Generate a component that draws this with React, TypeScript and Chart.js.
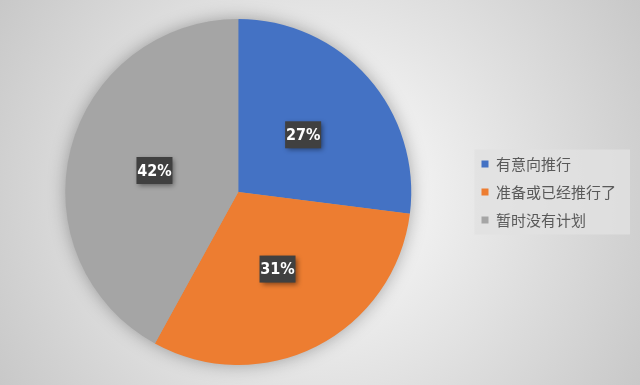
import React, { useEffect, useRef } from "react";
import { Chart, registerables } from "chart.js";

Chart.register(...registerables);

const categories = ["有意向推行", "准备或已经推行了", "暂时没有计划"];
const values = [27, 31, 42];
const colors = ["#4472C4", "#ED7D31", "#A5A5A5"];
const valueLabels = ["27%", "31%", "42%"];

const bgPlugin = {
  id: "bgPlugin",
  beforeDraw(chart: any) {
    const { ctx, width, height } = chart;
    ctx.save();
    const g = ctx.createRadialGradient(width / 2, height / 2, 0, width / 2, height / 2, Math.sqrt(width * width + height * height) / 2);
    g.addColorStop(0, "#ffffff");
    g.addColorStop(1, "#c8c8c8");
    ctx.fillStyle = g;
    ctx.fillRect(0, 0, width, height);
    const lg = chart.legend;
    if (lg && lg.legendHitBoxes && lg.legendHitBoxes.length) {
      const hb = lg.legendHitBoxes;
      let l = Infinity, t = Infinity, r = -Infinity, b = -Infinity;
      hb.forEach((h: any) => {
        l = Math.min(l, h.left);
        t = Math.min(t, h.top);
        r = Math.max(r, h.left + h.width);
        b = Math.max(b, h.top + h.height);
      });
      ctx.fillStyle = "rgba(225,225,225,0.8)";
      ctx.fillRect(l - 7, t - 7, r - l + 21, b - t + 14);
    }
    ctx.restore();
  },
  beforeDatasetsDraw(chart: any) {
    const meta = chart.getDatasetMeta(0);
    const arc = meta.data[0];
    if (!arc) return;
    const { ctx } = chart;
    ctx.save();
    ctx.shadowColor = "rgba(0,0,0,0.35)";
    ctx.shadowBlur = 18;
    ctx.fillStyle = "#a5a5a5";
    ctx.beginPath();
    ctx.arc(arc.x, arc.y, arc.outerRadius - 1, 0, Math.PI * 2);
    ctx.fill();
    ctx.restore();
  },
  afterDatasetsDraw(chart: any) {
    const meta = chart.getDatasetMeta(0);
    const { ctx } = chart;
    ctx.save();
    ctx.font = "bold 16px 'DejaVu Sans Condensed', 'Liberation Sans Narrow', sans-serif";
    ctx.textAlign = "center";
    ctx.textBaseline = "middle";
    meta.data.forEach((el: any, i: number) => {
      const p = el.tooltipPosition();
      const w = 36, h = 27;
      ctx.save();
      ctx.shadowColor = "rgba(0,0,0,0.45)";
      ctx.shadowBlur = 5;
      ctx.shadowOffsetX = 2;
      ctx.shadowOffsetY = 2;
      ctx.fillStyle = "#404040";
      ctx.fillRect(p.x - w / 2, p.y - h / 2, w, h);
      ctx.restore();
      ctx.fillStyle = "#ffffff";
      ctx.fillText(valueLabels[i], p.x, p.y + 1);
    });
    ctx.restore();
  },
};

export default function App() {
  const ref = useRef<HTMLCanvasElement>(null);
  useEffect(() => {
    document.body.style.margin = "0";
    const chart = new Chart(ref.current!, {
      type: "pie",
      data: {
        labels: categories,
        datasets: [
          {
            data: values,
            backgroundColor: colors,
            borderWidth: 0,
          },
        ],
      },
      options: {
        animation: false,
        responsive: false,
        layout: { padding: { left: 8, right: 14, top: 19, bottom: 20 } },
        plugins: {
          tooltip: { enabled: false },
          legend: {
            position: "right",
            labels: {
              boxWidth: 7,
              boxHeight: 7,
              padding: 13,
              color: "#595959",
              font: { size: 15, family: "'Noto Sans CJK SC', sans-serif" },
            },
          },
        },
      },
      plugins: [bgPlugin],
    });
    return () => chart.destroy();
  }, []);
  return <canvas ref={ref} width={640} height={385} style={{ display: "block" }} />;
}
